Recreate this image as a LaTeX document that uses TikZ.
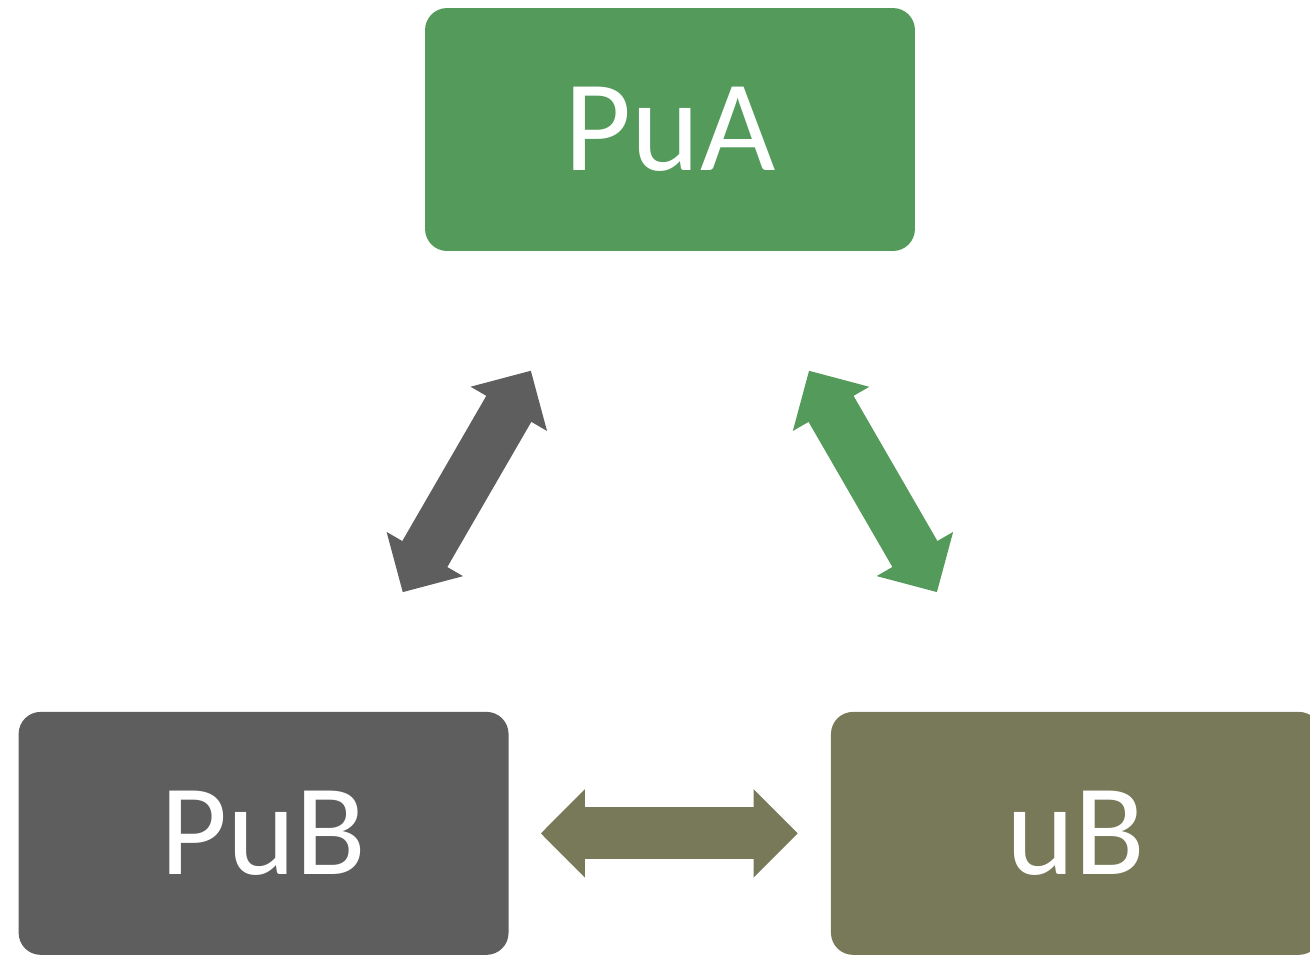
\documentclass[tikz,border=0pt]{standalone}
\usepackage{fontspec}
\setmainfont{Carlito}
\usetikzlibrary{arrows.meta,positioning}
\definecolor{boxgreen}{HTML}{549A5B}
\definecolor{boxgray}{HTML}{5E5E5E}
\definecolor{boxolive}{HTML}{787958}
\tikzstyle{box}=[rectangle,rounded corners=0.44cm,minimum width=9.8cm,minimum height=4.86cm,inner sep=0pt,text=white,font=\fontsize{74}{80}\selectfont]
\tikzstyle{link}=[line width=1.04cm,{Triangle[length=0.88cm,width=1.76cm,line width=1pt]}-{Triangle[length=0.88cm,width=1.76cm,line width=1pt]}]

\begin{document}
\begin{tikzpicture}[x=0.02cm,y=-0.02cm,on grid]
          \useasboundingbox (0,0) rectangle (1310,954);

          \node[box,fill=boxgreen] (PuA) at (670,129.5) {PuA};

          \node[box,fill=boxgray]  (PuB) [below left=14.08cm and 8.13cm of PuA] {PuB};

          \node[box,fill=boxolive] (uB)  [right=16.25cm of PuB] {uB};

          \draw[link,draw=boxgray,shorten <=2.76cm,shorten >=2.76cm]    (PuB) -- (PuA);
          \draw[link,draw=boxgreen,shorten <=2.76cm,shorten >=2.76cm]   (PuA) -- (uB);
          \draw[link,draw=boxolive,shorten <=0.64cm,shorten >=0.66cm]   (PuB) -- (uB);
        \end{tikzpicture}
\end{document}
